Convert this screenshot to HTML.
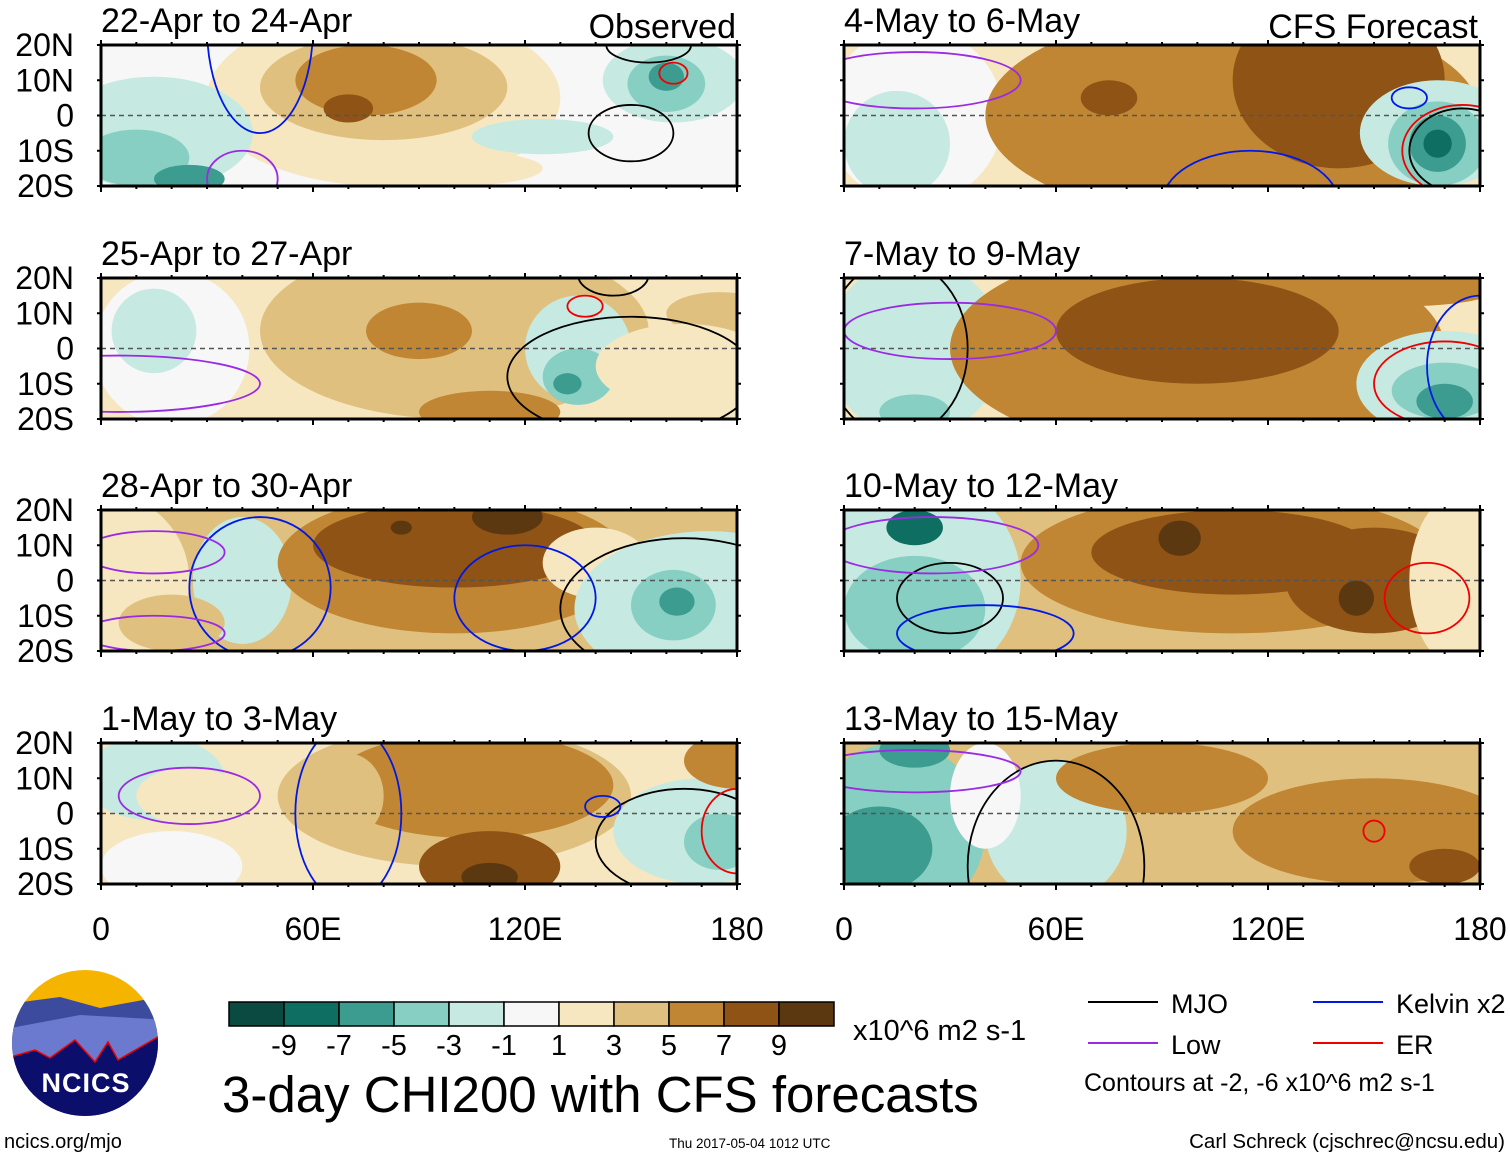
<!DOCTYPE html>
<html><head><meta charset="utf-8">
<style>
body{margin:0;background:#fff;width:1510px;height:1158px;overflow:hidden;font-family:"Liberation Sans",Arial,sans-serif}
svg{position:absolute;left:0;top:0}
</style></head>
<body>
<svg id="chart" width="1510" height="1158" viewBox="0 0 1510 1158" xmlns="http://www.w3.org/2000/svg">
<g id="panels"></g>
<g id="legend"></g>
</svg>
<script>
const NS="http://www.w3.org/2000/svg";
const levelColors=["#0b4a40","#0f6e62","#3c9c8f","#86cfc2","#c6eae1","#f7f7f7","#f6e7c1","#e0c07f","#c18633","#8f5315","#5c3810"];
const barLabels=["-9","-7","-5","-3","-1","1","3","5","7","9"];
const panelTitles=["22-Apr to 24-Apr","25-Apr to 27-Apr","28-Apr to 30-Apr","1-May to 3-May","4-May to 6-May","7-May to 9-May","10-May to 12-May","13-May to 15-May"];
const panelBase=[5,6,7,6,6,6,7,7];
// blobs: [lon, lat, rxDeg, ryDeg, level]
const blobs0=[[80,5,50,25,6],[80,8,35,15,7],[75,10,20,10,8],[70,2,7,4,9],[15,-5,28,16,4],[10,-12,15,8,3],[25,-18,10,4,2],[100,-15,25,5,6],[125,-6,20,5,4],[162,10,20,12,4],[160,9,11,8,3],[160,11,5,4,2]];
const blobs1=[[20,0,22,22,5],[15,5,12,12,4],[100,5,55,25,7],[90,5,15,8,8],[110,-18,20,6,8],[135,0,15,15,4],[135,-8,10,8,3],[132,-10,4,3,2],[175,10,15,6,7],[165,-5,25,12,6]];
const blobs2=[[0,0,25,25,6],[40,0,14,18,4],[100,5,50,20,8],[100,10,40,12,9],[115,18,10,5,10],[85,15,3,2,10],[140,5,15,10,6],[150,0,10,6,5],[172,-8,38,22,4],[163,-5,20,15,4],[162,-7,12,10,3],[163,-6,5,4,2],[20,-12,15,8,7]];
const blobs3=[[15,10,20,12,4],[25,5,15,8,6],[100,5,50,20,7],[105,8,40,15,8],[110,-15,20,10,9],[110,-18,8,4,10],[70,5,10,12,7],[170,-5,25,15,4],[175,-8,10,8,3],[20,-15,20,10,5],[180,15,15,8,8]];
const blobs4=[[20,0,25,25,5],[15,-8,15,15,4],[110,0,70,30,8],[140,10,30,25,9],[75,5,8,5,9],[168,-5,22,15,4],[168,-8,14,12,3],[168,-8,8,8,2],[168,-8,4,4,1]];
const blobs5=[[20,0,25,25,4],[100,0,70,30,8],[100,5,40,15,9],[160,20,30,8,8],[170,-10,25,15,4],[170,-12,15,8,3],[170,-15,8,5,2],[20,-18,10,5,3]];
const blobs6=[[20,0,30,30,4],[20,-8,20,15,3],[20,15,8,5,1],[110,5,60,20,8],[110,8,40,12,9],[150,0,25,15,9],[145,-5,5,5,10],[95,12,6,5,10],[175,0,15,25,6]];
const blobs7=[[15,-5,25,25,3],[10,-10,15,12,2],[60,-5,20,20,4],[40,5,10,15,5],[150,-5,40,15,8],[170,-15,10,5,9],[20,18,10,5,2],[90,10,30,10,8]];
const panelBlobs=[blobs0,blobs1,blobs2,blobs3,blobs4,blobs5,blobs6,blobs7];
// contours: [lon, lat, rxDeg, ryDeg, colorKey]
const contours0=[[150,-5,12,8,"k"],[155,20,12,5,"k"],[162,12,4,3,"r"],[45,25,15,30,"b"],[40,-18,10,8,"p"]];
const contours1=[[150,-8,35,17,"k"],[145,21,10,6,"k"],[137,12,5,3,"r"],[5,-10,40,8,"p"]];
const contours2=[[165,-8,35,20,"k"],[45,-2,20,20,"b"],[120,-5,20,15,"b"],[15,8,20,6,"p"],[15,-15,20,5,"p"]];
const contours3=[[165,-8,25,15,"k"],[70,0,15,25,"b"],[142,2,5,3,"b"],[180,-5,10,12,"r"],[25,5,20,8,"p"]];
const contours4=[[175,-10,15,12,"k"],[175,-10,17,13,"r"],[115,-25,25,15,"b"],[20,10,30,8,"p"],[160,5,5,3,"b"]];
const contours5=[[15,0,20,25,"k"],[170,-10,20,12,"r"],[180,-5,15,20,"b"],[30,5,30,8,"p"]];
const contours6=[[165,-5,12,10,"r"],[30,-5,15,10,"k"],[40,-15,25,8,"b"],[25,10,30,8,"p"]];
const contours7=[[60,-15,25,30,"k"],[150,-5,3,3,"r"],[80,-25,15,5,"b"],[20,12,30,6,"p"]];
const panelContours=[contours0,contours1,contours2,contours3,contours4,contours5,contours6,contours7];
const contourColor={k:"#000",r:"#e00",b:"#0018e6",p:"#9a2be2"};
const lonTicks=[0,60,120,180];
const lonLabels=["0","60E","120E","180"];
const latTicks=[20,10,0,-10,-20];
const latLabels=["20N","10N","0","10S","20S"];

const colX=[101,844], rowY=[45,278,510,743], PW=636, PH=141;
function mk(tag,attrs,parent){const e=document.createElementNS(NS,tag);for(const k in attrs)e.setAttribute(k,attrs[k]);if(parent)parent.appendChild(e);return e;}
const root=document.getElementById("panels");
const defs=mk("defs",{},root);
for(let p=0;p<8;p++){
  const x0=colX[p<4?0:1], y0=rowY[p%4];
  const xs=lon=>x0+lon/180*PW;
  const ys=lat=>y0+(20-lat)/40*PH;
  const cp=mk("clipPath",{id:"cp"+p},defs);
  mk("rect",{x:x0,y:y0,width:PW,height:PH},cp);
  const g=mk("g",{},root);
  
  
  const t=mk("text",{x:x0,y:y0-13,"font-size":34,fill:"#000"},g);
  t.textContent=panelTitles[p];
  
  
  const inner=mk("g",{"clip-path":"url(#cp"+p+")"},g);
  mk("rect",{x:x0,y:y0,width:PW,height:PH,fill:levelColors[panelBase[p]]},inner);
  panelBlobs[p].forEach(b=>{
    const el=mk("ellipse",{cx:xs(b[0]),cy:ys(b[1]),rx:b[2]/180*PW,ry:b[3]/40*PH,fill:levelColors[b[4]]},inner);
    
    
  });
  mk("line",{x1:x0,x2:x0+PW,y1:ys(0),y2:ys(0),stroke:"#555","stroke-width":1.5,"stroke-dasharray":"5,4"},inner);
  panelContours[p].forEach(c=>{
    const el=mk("ellipse",{cx:xs(c[0]),cy:ys(c[1]),rx:c[2]/180*PW,ry:c[3]/40*PH,fill:"none",stroke:contourColor[c[4]],"stroke-width":1.8},inner);
    
    
  });
  mk("rect",{x:x0,y:y0,width:PW,height:PH,fill:"none",stroke:"#000","stroke-width":3},g);
  for(let l=0;l<=180;l+=10){const big=l%60===0;
    mk("line",{x1:xs(l),x2:xs(l),y1:y0,y2:y0-(big?5:3),stroke:"#000","stroke-width":2},g);
    mk("line",{x1:xs(l),x2:xs(l),y1:y0+PH,y2:y0+PH+(big?6:3),stroke:"#000","stroke-width":2},g);}
  latTicks.forEach(l=>{mk("line",{x1:x0,x2:x0-4,y1:ys(l),y2:ys(l),stroke:"#000","stroke-width":2},g);
    mk("line",{x1:x0+PW,x2:x0+PW+4,y1:ys(l),y2:ys(l),stroke:"#000","stroke-width":2},g);});
  if(p<4){latTicks.forEach((l,i)=>{const tt=mk("text",{x:74,y:ys(l)+11,"font-size":32,"text-anchor":"end"},g);tt.textContent=latLabels[i];
    });}
  if(p%4===3){lonTicks.forEach((l,i)=>{const tt=mk("text",{x:xs(l),y:940,"font-size":32,"text-anchor":"middle"},g);tt.textContent=lonLabels[i];
    });}
}
const lg=document.getElementById("legend");
function txt(s,x,y,size,anchor,name){const t=mk("text",{x:x,y:y,"font-size":size,"text-anchor":anchor||"start"},lg);t.textContent=s;return t;}
txt("Observed",736,38,34,"end","observed-label");
txt("CFS Forecast",1478,38,34,"end","cfs-forecast-label");
levelColors.forEach((c,i)=>{const r=mk("rect",{x:229+i*55,y:1002,width:55,height:24,fill:c,stroke:"#000","stroke-width":1.5},lg);
  });
barLabels.forEach((s,i)=>txt(s,284+i*55,1055,29,"middle","colorbar-label"));
txt("x10^6 m2 s-1",853,1040,29,"start","units-label");
txt("3-day CHI200 with CFS forecasts",222,1112,51,"start","main-title");
const leg=[["MJO","#000",1088,1002],["Kelvin x2","#0018e6",1313,1002],["Low","#9a2be2",1088,1043],["ER","#e00",1313,1043]];
leg.forEach(l=>{mk("line",{x1:l[2],x2:l[2]+70,y1:l[3],y2:l[3],stroke:l[1],"stroke-width":2},lg);txt(l[0],l[2]+83,l[3]+11,27,"start","legend-entry");});
txt("Contours at -2, -6 x10^6 m2 s-1",1084,1091,25,"start","contour-note");
txt("ncics.org/mjo",4,1148,20,"start","site-url");
txt("Thu 2017-05-04 1012 UTC",669,1148,13.5,"start","timestamp");
txt("Carl Schreck (cjschrec@ncsu.edu)",1505,1148,20.5,"end","author");
const lgo=mk("g",{},lg);
mk("clipPath",{id:"logoclip"},defs).appendChild(mk("circle",{cx:85,cy:1043,r:73}));
const li=mk("g",{"clip-path":"url(#logoclip)"},lgo);
mk("rect",{x:0,y:960,width:170,height:170,fill:"#f4b400"},li);
mk("path",{d:"M0 1005 L60 997 L100 1008 L170 995 L170 1130 L0 1130Z",fill:"#3c4b9e"},li);
mk("path",{d:"M0 1030 L80 1015 L170 1020 L170 1130 L0 1130Z",fill:"#6b79cf"},li);
mk("path",{d:"M0 1060 L35 1050 L50 1058 L75 1040 L95 1062 L108 1042 L118 1060 L170 1030 L170 1130 L0 1130Z",fill:"#0b0f6b",stroke:"#e00","stroke-width":1.5},li);
const nt=mk("text",{x:86,y:1092,"font-size":27,"font-weight":"bold",fill:"#fff","text-anchor":"middle","letter-spacing":"1"},lgo);nt.textContent="NCICS";
</script>
</body></html>
